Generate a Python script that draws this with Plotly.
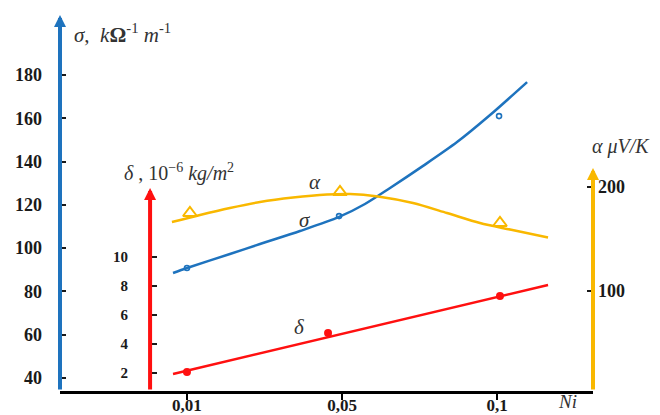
import plotly.graph_objects as go

# x positions: 1 -> Ni=0.01, 2 -> Ni=0.05, 3 -> Ni=0.1 (category positions on the drawn axis)
x_tickvals = [1, 2, 3]
x_ticktext = ["0,01", "0,05", "0,1"]

# sigma (kOhm^-1 m^-1) : fitted curve and measured points
sigma_curve_x = [0.910, 1.000, 1.277, 1.471, 1.729, 1.981, 2.148, 2.310, 2.523, 2.742, 2.955, 3.194]
sigma_curve_y = [88.5, 90.8, 97.3, 101.9, 107.9, 114.4, 120.4, 127.8, 138.0, 149.0, 161.5, 176.7]
sigma_pts_x = [1.0, 1.981, 3.013]
sigma_pts_y = [90.8, 114.8, 161.0]

# alpha (uV/K)
alpha_curve_x = [0.903, 1.084, 1.277, 1.471, 1.684, 1.903, 2.052, 2.232, 2.458, 2.677, 2.890, 3.084, 3.329]
alpha_curve_y = [166.3, 173.1, 179.8, 185.6, 189.9, 192.8, 193.3, 190.9, 184.6, 175.0, 165.4, 159.1, 151.4]
alpha_pts_x = [1.019, 1.987, 3.019]
alpha_pts_y = [175.0, 195.2, 165.4]

# delta (10^-6 kg/m^2)
delta_line_x = [0.910, 3.329]
delta_line_y = [1.93, 8.07]
delta_pts_x = [1.0, 1.910, 3.019]
delta_pts_y = [2.07, 4.76, 7.31]

sigma_ticks = [40, 60, 80, 100, 120, 140, 160, 180]
delta_ticks = [2, 4, 6, 8, 10]
alpha_ticks = [100, 200]

BLUE = "#1e73be"
YEL = "#f9b800"
RED = "#ff1010"
INK = "#1a1a1a"
SERIF = "Liberation Serif"

fig = go.Figure()
fig.add_trace(go.Scatter(x=sigma_curve_x, y=sigma_curve_y, mode="lines",
                         line=dict(color=BLUE, width=2.5, shape="spline", smoothing=0.8),
                         yaxis="y", showlegend=False))
fig.add_trace(go.Scatter(x=sigma_pts_x, y=sigma_pts_y, mode="markers",
                         marker=dict(symbol="circle-open", size=5, color=BLUE, line=dict(width=1.6)),
                         yaxis="y", showlegend=False))
fig.add_trace(go.Scatter(x=alpha_curve_x, y=alpha_curve_y, mode="lines",
                         line=dict(color=YEL, width=2.5, shape="spline", smoothing=0.8),
                         yaxis="y3", showlegend=False))
fig.add_trace(go.Scatter(x=alpha_pts_x, y=alpha_pts_y, mode="markers",
                         marker=dict(symbol="triangle-up-open", size=12, color=YEL, line=dict(width=2)),
                         yaxis="y3", showlegend=False))
fig.add_trace(go.Scatter(x=delta_line_x, y=delta_line_y, mode="lines",
                         line=dict(color=RED, width=2.5), yaxis="y2", showlegend=False))
fig.add_trace(go.Scatter(x=delta_pts_x, y=delta_pts_y, mode="markers",
                         marker=dict(symbol="circle", size=8, color=RED),
                         yaxis="y2", showlegend=False))

tick_common = dict(showgrid=False, zeroline=False, showline=False, ticks="inside",
                   ticklen=6, tickwidth=2, tickcolor=INK, automargin=False)

# page body has an 8px margin, so the figure is 652x407 placed at (8, 8)
fig.update_layout(
    width=652, height=407,
    margin=dict(l=52, r=67, t=7, b=24, autoexpand=False),
    paper_bgcolor="white", plot_bgcolor="white",
    xaxis=dict(range=[0.181, 3.619], tickvals=x_tickvals, ticktext=x_ticktext,
               showgrid=False, zeroline=False, showline=True, linecolor="black", linewidth=3,
               ticks="outside", ticklen=6, tickwidth=2, tickcolor="black", automargin=False,
               ticklabelstandoff=-9,
               tickfont=dict(family=SERIF, size=17, color=INK, weight="bold")),
    yaxis=dict(range=[34.0, 207.7], tickvals=sigma_ticks, side="left",
               tickfont=dict(family=SERIF, size=18, color=INK, weight="bold"),
               ticklabelstandoff=17, **tick_common),
    yaxis2=dict(range=[0.759, 26.69], tickvals=delta_ticks, overlaying="y", anchor="free",
                position=0.169, side="left",
                tickfont=dict(family=SERIF, size=15, color=INK, weight="bold"),
                ticklabelstandoff=22, **tick_common),
    yaxis3=dict(range=[3.85, 365.4], tickvals=alpha_ticks, overlaying="y", anchor="x",
                side="right",
                tickfont=dict(family=SERIF, size=18, color=INK, weight="bold"),
                ticklabelstandoff=4, **tick_common),
)

# axis lines with arrow heads
for xp, yp, length, col in [(0.0, 1.0, 376, BLUE), (0.169, 0.540, 203, RED), (1.0, 0.593, 223, YEL)]:
    fig.add_annotation(xref="paper", yref="paper", x=xp, y=yp, ax=0, ay=length, text="",
                       showarrow=True, arrowhead=2, arrowsize=0.6, arrowwidth=4, arrowcolor=col)

ann_font = dict(family=SERIF, size=20, color="#333333")
fig.add_annotation(xref="paper", yref="paper", x=0.0225, y=0.952, xanchor="left", yanchor="middle",
                   text="<i>σ</i>,  <i>k</i><b>Ω</b><sup>-1</sup> <i>m</i><sup>-1</sup>",
                   showarrow=False, font=dict(family=SERIF, size=21, color="#333333"))
fig.add_annotation(xref="paper", yref="paper", x=0.116, y=0.580, xanchor="left", yanchor="middle",
                   text="<i>δ</i> , 10<sup>−6</sup> <i>kg/m</i><sup>2</sup>",
                   showarrow=False, font=ann_font)
fig.add_annotation(xref="paper", yref="paper", x=0.994, y=0.649, xanchor="left", yanchor="middle",
                   text="<i>α μV/K</i>", showarrow=False, font=ann_font)
fig.add_annotation(xref="x", yref="y3", x=1.826, y=204.8, text="<i>α</i>", showarrow=False,
                   font=dict(family=SERIF, size=21, color="#333333"))
fig.add_annotation(xref="x", yref="y", x=1.761, y=113.0, text="<i>σ</i>", showarrow=False,
                   font=dict(family=SERIF, size=21, color="#333333"))
fig.add_annotation(xref="x", yref="y2", x=1.729, y=5.17, text="<i>δ</i>", showarrow=False,
                   font=dict(family=SERIF, size=21, color="#333333"))
fig.add_annotation(xref="paper", yref="paper", x=0.953, y=-0.029, xanchor="center", yanchor="middle",
                   borderpad=0, text="<i>Ni</i>", showarrow=False,
                   font=dict(family=SERIF, size=19, color="#333333"))

fig.write_html("out.html")
